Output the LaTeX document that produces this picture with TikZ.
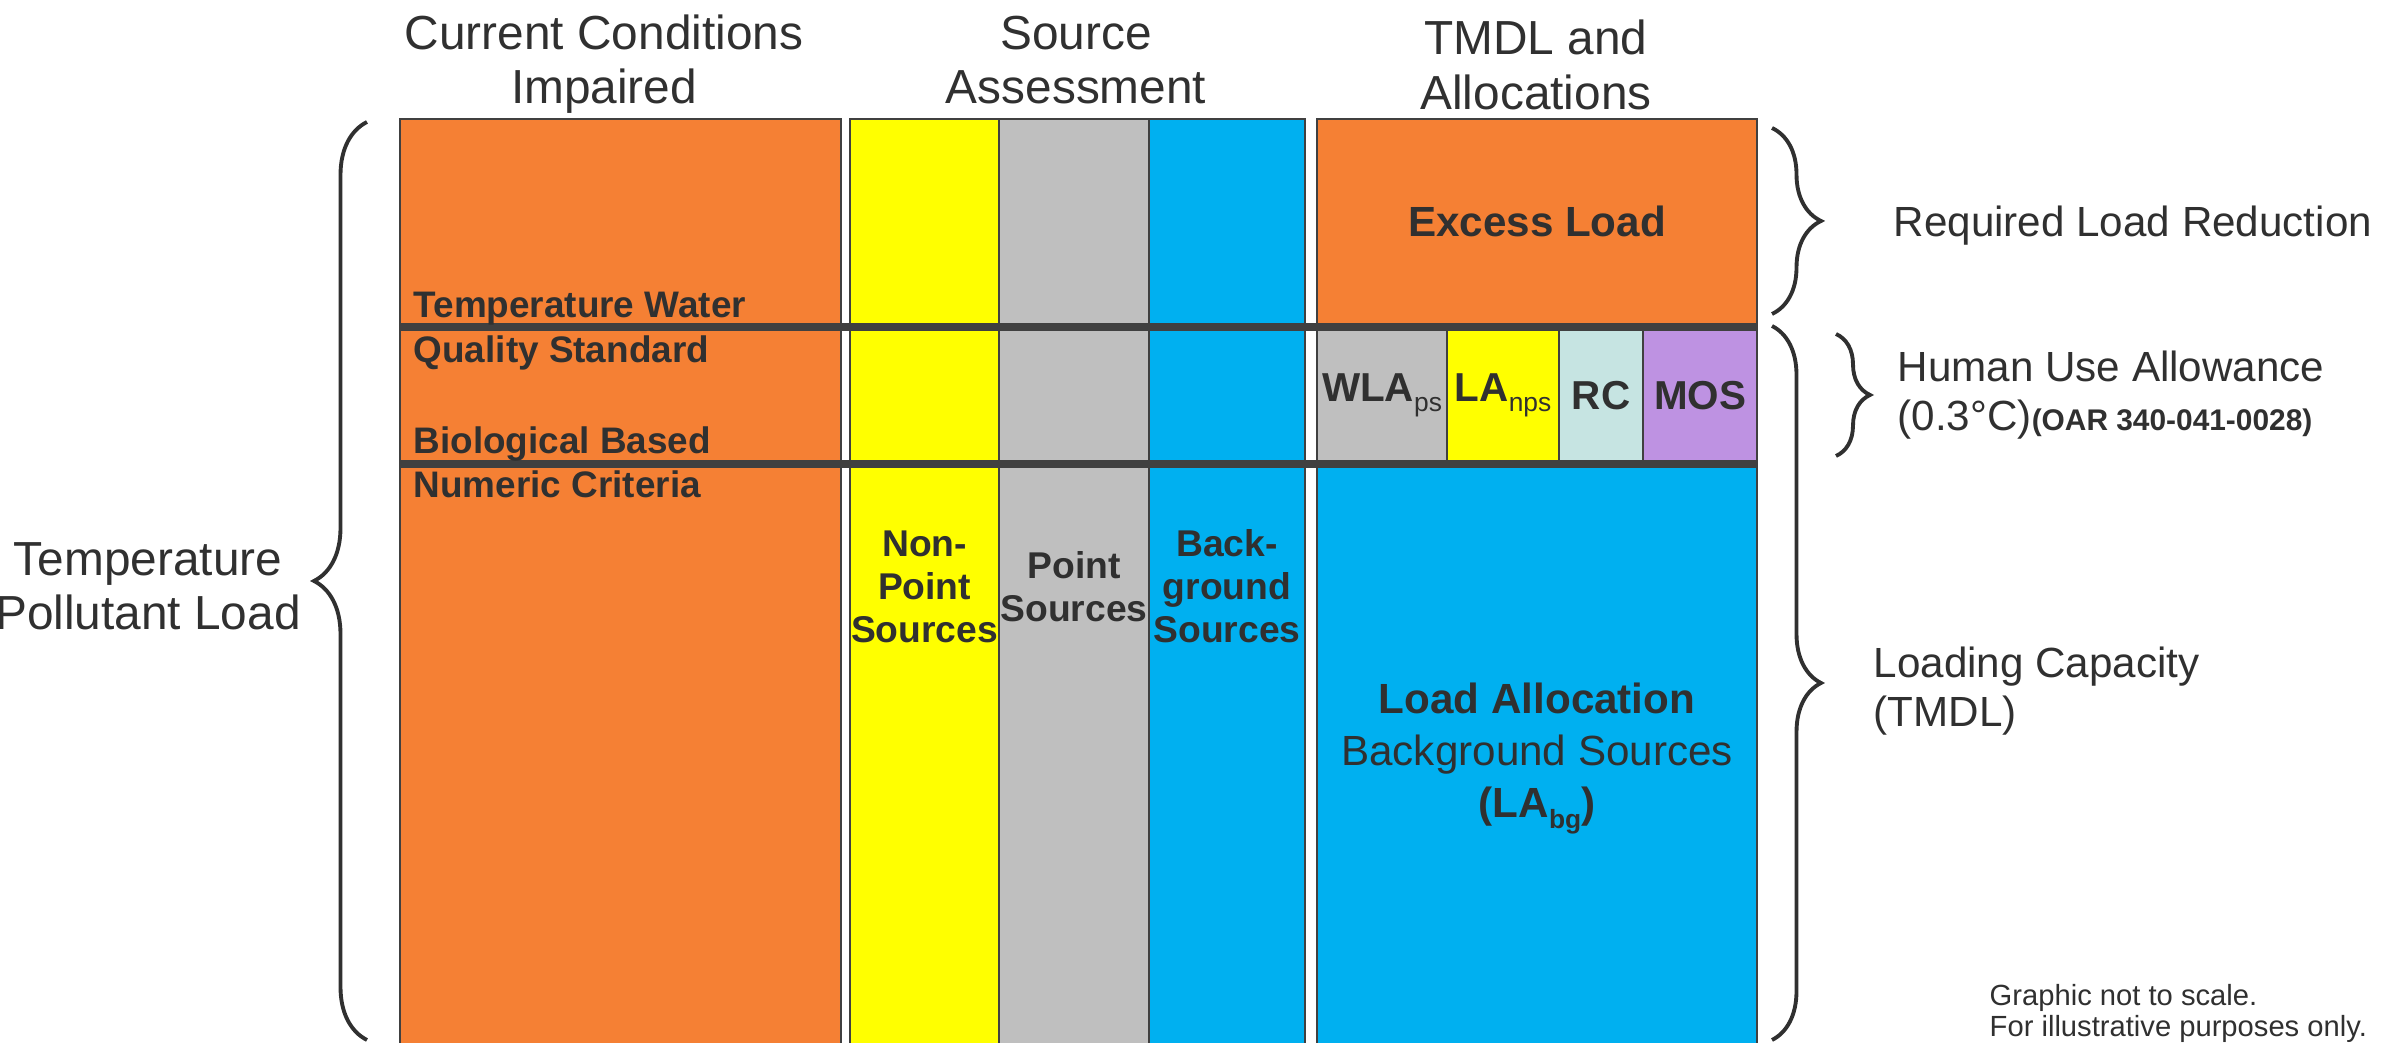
\documentclass[tikz,border=0pt]{standalone}
\usepackage{fontspec}
\setmainfont{Liberation Sans}
\usetikzlibrary{decorations.pathreplacing,positioning}
\definecolor{ink}{RGB}{48,48,48}
\definecolor{edge}{RGB}{64,64,64}
\definecolor{hot}{RGB}{245,128,52}
\definecolor{npsc}{RGB}{255,255,0}
\definecolor{psc}{RGB}{191,191,191}
\definecolor{bgc}{RGB}{0,176,240}
\definecolor{rcc}{RGB}{198,228,226}
\definecolor{mosc}{RGB}{190,146,226}
\newcommand{\lowsub}[1]{\raisebox{-3pt}{\mdseries\fontsize{7.5}{8}\selectfont #1}}
\tikzset{
  band/.style={draw=edge,line width=0.6pt,anchor=north west,inner sep=0pt,align=center,text=ink},
  hdr/.style={font=\fontsize{13.6}{15.4}\selectfont,align=center,text=ink,inner sep=0pt,anchor=base},
  side/.style={font=\fontsize{12}{14}\selectfont,align=left,text=ink,inner sep=0pt,anchor=base west},
  crit/.style={font=\bfseries\fontsize{10.5}{12}\selectfont,text=ink,inner sep=0pt,anchor=base west},
  divider/.style={draw=edge,line width=2.3pt},
  brc/.style={decorate,decoration={brace,amplitude=#1},line width=1.1pt,draw=ink}
}

\begin{document}
\begin{tikzpicture}
\useasboundingbox (0,0) rectangle (23.99,10.43);
% column headers
\node[hdr] (hcur) at (6.04,9.39) {Current Conditions\\Impaired};
\node[hdr] (hsrc) at (10.76,9.39) {Source\\Assessment};
\node[hdr,font=\fontsize{13.6}{15.9}\selectfont] (htmdl) at (15.36,9.33) {TMDL and\\Allocations};
% current conditions
\node[band,fill=hot,minimum width=4.41cm,minimum height=9.35cm] (cur) at (3.99,9.25) {};
% source assessment
\foreach \x/\w/\c/\n/\txt in {8.49/1.49/npsc/nps/{Non-\\Point\\Sources},9.98/1.50/psc/ps/{Point\\Sources},11.48/1.56/bgc/bg/{Back-\\ground\\Sources}}
  \node[band,fill=\c,minimum width=\w cm,minimum height=9.35cm,font=\bfseries\fontsize{10.6}{12.2}\selectfont] (\n) at (\x,9.25) {\txt};
% TMDL and allocations
\node[band,fill=hot,minimum width=4.40cm,minimum height=2.05cm,font=\bfseries\fontsize{12}{14}\selectfont] (excess) at (13.16,9.25) {Excess Load};
\foreach \x/\w/\c/\n/\txt in {13.16/1.30/psc/wla/{WLA\lowsub{ps}},14.46/1.12/npsc/lanps/{LA\lowsub{nps}},15.58/0.84/rcc/rc/RC,16.42/1.14/mosc/mos/MOS}
  \node[band,fill=\c,minimum width=\w cm,minimum height=1.35cm,font=\bfseries\fontsize{11.5}{13}\selectfont] (\n) at (\x,7.16) {\txt};
\node[band,fill=bgc,minimum width=4.40cm,minimum height=5.91cm,font=\fontsize{12}{14.8}\selectfont] (la) at (13.16,5.81) {\textbf{Load Allocation}\\Background Sources\\\textbf{(LA\lowsub{\bfseries bg})}};
% standard lines
\draw[divider] (cur.west |- mos.north) -- (mos.north east);
\draw[divider] (cur.west |- mos.south) -- (mos.south east);
\node[crit] (tw) at (4.13,7.25) {Temperature Water};
\node[crit] (qs) at (4.13,6.80) {Quality Standard};
\node[crit] (bb) at (4.13,5.89) {Biological Based};
\node[crit] (nc) at (4.13,5.45) {Numeric Criteria};
% braces
\coordinate (l1) at (3.67,0.03); \coordinate (l2) at (3.67,9.21);
\draw[brc=5.3mm] (l1) -- (l2);
\node[hdr,font=\fontsize{13.6}{15.6}\selectfont] (tpl) at (1.48,4.13) {Temperature\\Pollutant Load};
\coordinate (r1a) at (17.72,9.15); \coordinate (r1b) at (17.72,7.29);
\draw[brc=4.9mm] (r1a) -- (r1b);
\node[side] (rlr) at (18.93,8.06) {Required Load Reduction};
\coordinate (r2a) at (18.36,7.09); \coordinate (r2b) at (18.36,5.87);
\draw[brc=3.4mm] (r2a) -- (r2b);
\node[side] (hua) at (18.97,6.12) {Human Use Allowance\\(0.3°C){\bfseries\fontsize{8.5}{10}\selectfont(OAR 340-041-0028)}};
\coordinate (r3a) at (17.72,7.17); \coordinate (r3b) at (17.72,0.03);
\draw[brc=4.9mm] (r3a) -- (r3b);
\node[side] (lc) at (18.73,3.16) {Loading Capacity\\(TMDL)};
\node[side,font=\fontsize{8.3}{9.1}\selectfont] (note) at (19.89,0.06) {Graphic not to scale.\\For illustrative purposes only.};
\end{tikzpicture}
\end{document}
